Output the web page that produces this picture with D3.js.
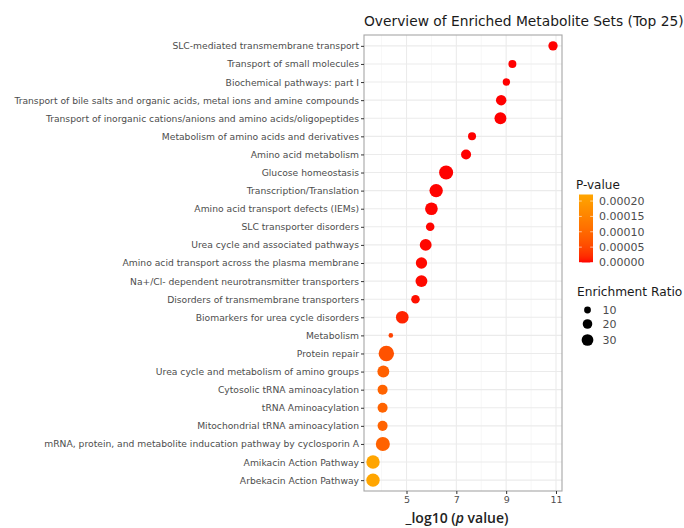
<!DOCTYPE html>
<html>
<head>
<meta charset="utf-8">
<script src="https://cdn.jsdelivr.net/npm/d3@7/dist/d3.min.js"></script>
<style>
  html, body { margin: 0; padding: 0; background: #fff; }
  svg { display: block; }
  text { font-family: "DejaVu Sans", sans-serif; }
</style>
</head>
<body>
<svg id="chart" width="684" height="528"></svg>
<script>
// Metabolite sets, top to bottom
const categories = [
  "SLC-mediated transmembrane transport",
  "Transport of small molecules",
  "Biochemical pathways: part I",
  "Transport of bile salts and organic acids, metal ions and amine compounds",
  "Transport of inorganic cations/anions and amino acids/oligopeptides",
  "Metabolism of amino acids and derivatives",
  "Amino acid metabolism",
  "Glucose homeostasis",
  "Transcription/Translation",
  "Amino acid transport defects (IEMs)",
  "SLC transporter disorders",
  "Urea cycle and associated pathways",
  "Amino acid transport across the plasma membrane",
  "Na+/Cl- dependent neurotransmitter transporters",
  "Disorders of transmembrane transporters",
  "Biomarkers for urea cycle disorders",
  "Metabolism",
  "Protein repair",
  "Urea cycle and metabolism of amino groups",
  "Cytosolic tRNA aminoacylation",
  "tRNA Aminoacylation",
  "Mitochondrial tRNA aminoacylation",
  "mRNA, protein, and metabolite inducation pathway by cyclosporin A",
  "Amikacin Action Pathway",
  "Arbekacin Action Pathway"
];

// -log10(p value) per set
const negLog10P = [
  10.88, 9.25, 9.01, 8.80, 8.77, 7.63, 7.39, 6.59, 6.19, 6.00,
  5.95, 5.77, 5.60, 5.60, 5.36, 4.83, 4.37, 4.19, 4.07, 4.04,
  4.04, 4.04, 4.05, 3.655, 3.655
];

// Enrichment ratio per set
const enrichmentRatio = [
  19, 14, 12, 24, 31, 14, 22, 43, 39, 35,
  16, 31, 28, 31, 16, 35, 4.6, 52, 31, 22,
  22, 22, 43, 39, 39
];

const xTicks = [5, 7, 9, 11];
const pTicks = [0, 0.00005, 0.00010, 0.00015, 0.00020];
const sizeLegend = [10, 20, 30];

const data = categories.map((c, i) => ({
  name: c,
  x: negLog10P[i],
  p: Math.pow(10, -negLog10P[i]),
  er: enrichmentRatio[i]
}));

const svg = d3.select("#chart");
const panel = { left: 364, right: 562, top: 35, bottom: 491 };

// x scale with 5% expansion on each side
const xMin = d3.min(negLog10P), xMax = d3.max(negLog10P);
const pad = (xMax - xMin) * 0.05;
const x = d3.scaleLinear().domain([xMin - pad, xMax + pad]).range([panel.left, panel.right]);

const y = d3.scalePoint().domain(categories).range([panel.top, panel.bottom]).padding(0.6);

const pExtent = d3.extent(data, d => d.p);
const color = d3.scaleLinear().domain(pExtent).range(["#FF0000", "#FFA500"]).interpolate(d3.interpolateLab);
const radius = d3.scaleSqrt().domain([0, 30]).range([0, 5.86]);

// Panel background
svg.append("rect")
  .attr("x", panel.left).attr("y", panel.top)
  .attr("width", panel.right - panel.left).attr("height", panel.bottom - panel.top)
  .attr("fill", "#fff");

// Minor vertical grid
const minor = d3.range(4, 11, 2);
svg.append("g").selectAll("line").data(minor).join("line")
  .attr("x1", d => x(d)).attr("x2", d => x(d))
  .attr("y1", panel.top).attr("y2", panel.bottom)
  .attr("stroke", "#F2F2F2").attr("stroke-width", 0.6);

// Major vertical grid
svg.append("g").selectAll("line").data(xTicks).join("line")
  .attr("x1", d => x(d)).attr("x2", d => x(d))
  .attr("y1", panel.top).attr("y2", panel.bottom)
  .attr("stroke", "#EBEBEB").attr("stroke-width", 1.1);

// Horizontal grid per category
svg.append("g").selectAll("line").data(categories).join("line")
  .attr("x1", panel.left).attr("x2", panel.right)
  .attr("y1", d => y(d)).attr("y2", d => y(d))
  .attr("stroke", "#EBEBEB").attr("stroke-width", 1.1);

// Points
svg.append("g").selectAll("circle").data(data).join("circle")
  .attr("cx", d => x(d.x)).attr("cy", d => y(d.name))
  .attr("r", d => radius(d.er))
  .attr("fill", d => color(d.p));

// Panel border
svg.append("rect")
  .attr("x", panel.left).attr("y", panel.top)
  .attr("width", panel.right - panel.left).attr("height", panel.bottom - panel.top)
  .attr("fill", "none").attr("stroke", "#A6A6A6").attr("stroke-width", 1.1);

// Y axis
const yAxis = svg.append("g")
  .attr("transform", `translate(${panel.left},0)`)
  .call(d3.axisLeft(y).tickSize(3).tickPadding(2));
yAxis.select(".domain").remove();
yAxis.selectAll(".tick line").attr("stroke", "#333").attr("stroke-width", 1);
yAxis.selectAll(".tick text")
  .attr("fill", "#4D4D4D").style("font-size", "9.2px")
  .style("font-family", "'DejaVu Sans', sans-serif");

// X axis
const xAxis = svg.append("g")
  .attr("transform", `translate(0,${panel.bottom})`)
  .call(d3.axisBottom(x).tickValues(xTicks).tickSize(3).tickPadding(2).tickFormat(d3.format("d")));
xAxis.select(".domain").remove();
xAxis.selectAll(".tick line").attr("stroke", "#333").attr("stroke-width", 1);
xAxis.selectAll(".tick text")
  .attr("fill", "#4D4D4D").style("font-size", "9.5px")
  .style("font-family", "'DejaVu Sans', sans-serif");

// X axis title
const xTitle = svg.append("text")
  .attr("x", 457).attr("y", 523)
  .attr("text-anchor", "middle")
  .style("font-family", "'Open Sans', sans-serif")
  .style("font-size", "14px").style("font-weight", "600")
  .attr("fill", "#222");
xTitle.append("tspan").text("_log10 (");
xTitle.append("tspan").style("font-style", "italic").text("p");
xTitle.append("tspan").text(" value)");

// Title
svg.append("text")
  .attr("x", 364).attr("y", 26)
  .style("font-size", "13.8px").attr("fill", "#1a1a1a")
  .text("Overview of Enriched Metabolite Sets (Top 25)");

// Colour legend
svg.append("text").attr("x", 576).attr("y", 189)
  .style("font-size", "12px").attr("fill", "#1a1a1a").text("P-value");

const bar = { x: 579, w: 14, top: 194.5, bottom: 262.5 };
const barScale = d3.scaleLinear().domain(pExtent).range([bar.bottom, bar.top]);
const defs = svg.append("defs");
const grad = defs.append("linearGradient").attr("id", "pgrad")
  .attr("x1", 0).attr("y1", 1).attr("x2", 0).attr("y2", 0);
d3.range(0, 1.0001, 0.05).forEach(t => {
  grad.append("stop").attr("offset", t)
    .attr("stop-color", color(pExtent[0] + t * (pExtent[1] - pExtent[0])));
});
svg.append("rect").attr("x", bar.x).attr("y", bar.top)
  .attr("width", bar.w).attr("height", bar.bottom - bar.top)
  .attr("fill", "url(#pgrad)");

const pt = svg.append("g").selectAll("g").data(pTicks).join("g");
pt.append("line")
  .attr("x1", bar.x).attr("x2", bar.x + 2.8)
  .attr("y1", d => barScale(d)).attr("y2", d => barScale(d))
  .attr("stroke", "#fff").attr("stroke-width", 0.6);
pt.append("line")
  .attr("x1", bar.x + bar.w - 2.8).attr("x2", bar.x + bar.w)
  .attr("y1", d => barScale(d)).attr("y2", d => barScale(d))
  .attr("stroke", "#fff").attr("stroke-width", 0.6);
pt.append("text")
  .attr("x", 599).attr("y", d => barScale(d))
  .attr("dy", "0.35em")
  .style("font-size", "11px").attr("fill", "#4D4D4D")
  .text(d => d3.format(".5f")(d));

// Size legend
svg.append("text").attr("x", 577).attr("y", 296)
  .style("font-size", "12.2px").attr("fill", "#1a1a1a").text("Enrichment Ratio");

const sizeY = [310, 324, 340];
const sg = svg.append("g").selectAll("g").data(sizeLegend).join("g")
  .attr("transform", (d, i) => `translate(0,${sizeY[i]})`);
sg.append("circle").attr("cx", 587.5).attr("cy", 0)
  .attr("r", d => radius(d)).attr("fill", "#000");
sg.append("text").attr("x", 602.5).attr("y", 0).attr("dy", "0.35em")
  .style("font-size", "11px").attr("fill", "#4D4D4D")
  .text(d => d);
</script>
</body>
</html>
